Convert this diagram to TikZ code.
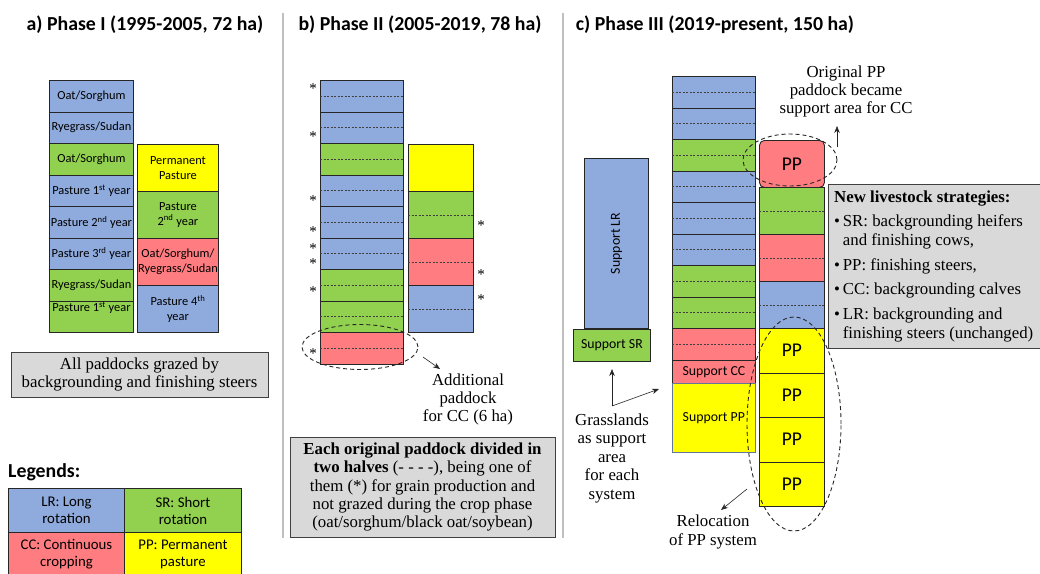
\documentclass[tikz,border=0pt]{standalone}
\usepackage{fontspec}
\setmainfont{Liberation Serif}
\newfontfamily\calfont{Carlito}
\usetikzlibrary{arrows.meta,shapes.geometric}
\definecolor{cblue}{HTML}{8FAADC}
\definecolor{cgreen}{HTML}{92D050}
\definecolor{cred}{HTML}{FF7C80}
\definecolor{cyel}{HTML}{FFFF00}
\definecolor{cgray}{HTML}{D9D9D9}
\definecolor{edgec}{HTML}{262626}
\definecolor{sepc}{HTML}{BFBFBF}
\newcommand\pc[8][]{\node[cellbox,fill=#7,minimum width=#5pt,minimum height=#6pt,#1] (#2) at (#3,#4) {#8};}
\newcommand\halfline[1]{\draw[halfst] (#1.west) -- (#1.east);}
\tikzset{
  cellbox/.style={draw=edgec, line width=0.9pt, anchor=north west, inner sep=0pt, align=center,
    font=\calfont\fontsize{12.4}{14.5}\selectfont},
  halfst/.style={draw=black!75, line width=0.45pt, dash pattern=on 2pt off 1.5pt},
  graybox/.style={draw=black!75, fill=cgray, line width=1pt, inner sep=0pt},
  serif/.style={font=\fontsize{16.8}{18}\selectfont, align=center, inner sep=0pt},
  ttl/.style={font=\calfont\bfseries\fontsize{19.8}{22}\selectfont, inner sep=0pt},
  ell/.style={ellipse, draw=black!85, line width=0.9pt, dash pattern=on 4pt off 3pt, inner sep=0pt},
  arr/.style={draw=black!85, line width=0.6pt, -{Stealth[length=7pt,width=5.5pt]}},
  star/.style={font=\fontsize{15}{15}\selectfont, inner sep=0pt},
  sepl/.style={draw=sepc, line width=2pt},
  legf/.style={font=\calfont\fontsize{14.8}{17}\selectfont},
  ppf/.style={font=\calfont\fontsize{19.5}{20}\selectfont},
  supf/.style={font=\calfont\fontsize{13.8}{15}\selectfont}
}
\begin{document}
\begin{tikzpicture}[x=1pt,y=-1pt]
\useasboundingbox (0,0) rectangle (1040,573);
\clip (0,0) rectangle (1040,573);
\fill[white] (0,0) rectangle (1040,573);

% separators
\coordinate (s1a) at (283,13); \coordinate (s1b) at (283,538);
\coordinate (s2a) at (563,13); \coordinate (s2b) at (563,538);
\draw[sepl] (s1a) -- (s1b);
\draw[sepl] (s2a) -- (s2b);

% titles
\node[ttl] (tA) at (145,25) {a) Phase I (1995-2005, 72 ha)};
\node[ttl] (tB) at (420,25) {b) Phase II (2005-2019, 78 ha)};
\node[ttl] (tC) at (715,25) {c) Phase III (2019-present, 150 ha)};

% ---------- Panel a ----------
\pc{aL1}{49}{80}{84}{31.5}{cblue}{Oat/Sorghum}
\pc{aL2}{49}{111.5}{84}{31.5}{cblue}{Ryegrass/Sudan}
\pc{aL3}{49}{143}{84}{31.5}{cgreen}{Oat/Sorghum}
\pc{aL4}{49}{174.5}{84}{31.5}{cblue}{Pasture 1\textsuperscript{st} year}
\pc{aL5}{49}{206}{84}{31.5}{cblue}{Pasture 2\textsuperscript{nd} year}
\pc{aL6}{49}{237.5}{84}{31.5}{cblue}{Pasture 3\textsuperscript{rd} year}
\pc{aL7}{49}{269}{84}{31.5}{cgreen}{Ryegrass/Sudan}
\pc{aL8}{49}{300.5}{84}{31.5}{cgreen}{Pasture 1\textsuperscript{st} year\\[5pt]}
\pc{aR1}{137}{144}{81}{47}{cyel}{Permanent\\Pasture}
\pc{aR2}{137}{191}{81}{47}{cgreen}{Pasture\\2\textsuperscript{nd} year}
\pc{aR3}{137}{238}{81}{47}{cred}{Oat/Sorghum/\\Ryegrass/Sudan}
\pc{aR4}{137}{285}{81}{47}{cblue}{Pasture 4\textsuperscript{th}\\year}
\node[graybox, serif, minimum width=257pt, minimum height=45pt, font=\fontsize{16.8}{17.5}\selectfont] (aBox) at (139.5,374.5)
  {All paddocks grazed by\\backgrounding and finishing steers};

% legend
\node[ttl, anchor=west] (leg) at (8,472) {Legends:};
\pc[legf]{lLR}{8}{488}{116}{44}{cblue}{LR: Long\\rotation}
\pc[legf]{lSR}{124}{488}{117}{44}{cgreen}{SR: Short\\rotation}
\pc[legf]{lCC}{8}{532}{116}{44}{cred}{CC: Continuous\\cropping}
\pc[legf]{lPP}{124}{532}{117}{44}{cyel}{PP: Permanent\\pasture}

% ---------- Panel b ----------
\pc{bL1}{320}{80}{83}{31.5}{cblue}{}
\pc{bL2}{320}{111.5}{83}{31.5}{cblue}{}
\pc{bL3}{320}{143}{83}{31.5}{cgreen}{}
\pc{bL4}{320}{174.5}{83}{31.5}{cblue}{}
\pc{bL5}{320}{206}{83}{31.5}{cblue}{}
\pc{bL6}{320}{237.5}{83}{31.5}{cblue}{}
\pc{bL7}{320}{269}{83}{31.5}{cgreen}{}
\pc{bL8}{320}{300.5}{83}{31.5}{cgreen}{}
\pc{bL9}{320}{332}{83}{31.5}{cred}{}
\foreach \n in {bL1,bL2,bL3,bL4,bL5,bL6,bL7,bL8,bL9} {\halfline{\n}}
\pc{bR1}{408}{144}{65}{47}{cyel}{}
\pc{bR2}{408}{191}{65}{47}{cgreen}{}
\pc{bR3}{408}{238}{65}{47}{cred}{}
\pc{bR4}{408}{285}{65}{47}{cblue}{}
\foreach \n in {bR2,bR3,bR4} {\halfline{\n}}
% asterisks
\node[star] (st1) at (313,89) {*};
\node[star] (st2) at (313,137) {*};
\node[star] (st3) at (313,201) {*};
\node[star] (st4) at (313,232) {*};
\node[star] (st5) at (313,249) {*};
\node[star] (st6) at (313,264) {*};
\node[star] (st7) at (313,292) {*};
\node[star] (st8) at (313,354) {*};
\node[star] (st9) at (481,226) {*};
\node[star] (st10) at (481,275) {*};
\node[star] (st11) at (481,300) {*};
\node[ell, minimum width=116pt, minimum height=45pt] (bE) at (360,347) {};
\coordinate (bA1) at (423,357); \coordinate (bA2) at (440,369);
\draw[arr] (bA1) -- (bA2);
\node[serif] (bT) at (468,399) {Additional\\paddock\\for CC (6 ha)};
\node[graybox, minimum width=265pt, minimum height=100pt] (bBox) at (422.5,487) {};
\node[serif, font=\fontsize{16.8}{18.3}\selectfont] (bBoxT) at (bBox.center)
  {\textbf{Each original paddock divided in}\\\textbf{two halves} (- - - -), being one of\\them (*) for grain production and\\not grazed during the crop phase\\(oat/sorghum/black oat/soybean)};

% ---------- Panel c ----------
\pc{cLR}{584}{158}{64}{170}{cblue}{}
\node[supf, rotate=90, inner sep=0pt] (cLRt) at (cLR.center) {Support LR};
\pc[supf]{cSR}{573}{329}{77}{32}{cgreen}{Support SR}

\pc{cM1}{672}{76}{83}{31.5}{cblue}{}
\pc{cM2}{672}{107.5}{83}{31.5}{cblue}{}
\pc{cM3}{672}{139}{83}{31.5}{cgreen}{}
\pc{cM4}{672}{170.5}{83}{31.5}{cblue}{}
\pc{cM5}{672}{202}{83}{31.5}{cblue}{}
\pc{cM6}{672}{233.5}{83}{31.5}{cblue}{}
\pc{cM7}{672}{265}{83}{31.5}{cgreen}{}
\pc{cM8}{672}{296.5}{83}{31.5}{cgreen}{}
\pc{cM9}{672}{328}{83}{31.5}{cred}{}
\foreach \n in {cM1,cM2,cM3,cM4,cM5,cM6,cM7,cM8,cM9} {\halfline{\n}}
\pc[supf]{cCC}{672}{359.5}{83}{23.5}{cred}{Support CC}
\pc[supf, draw=cblue!70!black, line width=0.6pt]{cPP}{672}{383}{83}{69}{cyel}{Support PP}

\pc[ppf, rounded corners=5pt]{cR1}{759}{140}{65}{47}{cred}{PP}
\pc{cR2}{759}{187}{65}{47}{cgreen}{}
\pc{cR3}{759}{234}{65}{47}{cred}{}
\pc{cR4}{759}{281}{65}{47}{cblue}{}
\foreach \n in {cR2,cR3,cR4} {\halfline{\n}}
\pc[ppf]{cP1}{759}{328}{65}{44.5}{cyel}{PP}
\pc[ppf]{cP2}{759}{372.5}{65}{44.5}{cyel}{PP}
\pc[ppf]{cP3}{759}{417}{65}{44.5}{cyel}{PP}
\pc[ppf]{cP4}{759}{461.5}{65}{44.5}{cyel}{PP}

\node[ell, minimum width=94pt, minimum height=52pt] (cE1) at (790,160) {};
\node[ell, minimum width=94pt, minimum height=214pt] (cE2) at (794,424) {};

\node[serif] (cOT) at (846,91) {Original PP\\paddock became\\support area for CC};
\coordinate (cA1) at (837,147); \coordinate (cA2) at (837,126);
\draw[arr] (cA1) -- (cA2);

\node[graybox, anchor=north west, minimum width=214pt, minimum height=164pt] (cBox) at (828,184) {};
\node[anchor=north west, inner sep=0pt, font=\fontsize{16.8}{19}\selectfont] (cBoxT) at (834,189)
  {\begin{tabular}{@{}l@{\,}l@{}}
   \multicolumn{2}{@{}l}{\textbf{New livestock strategies:}}\\[5pt]
   \textbullet & SR: backgrounding heifers\\
   & and finishing cows,\\[5.5pt]
   \textbullet & PP: finishing steers,\\[5.5pt]
   \textbullet & CC: backgrounding calves\\[5.5pt]
   \textbullet & LR: backgrounding and\\
   & finishing steers (unchanged)
   \end{tabular}};

\node[serif, font=\fontsize{16.8}{18.5}\selectfont] (cGT) at (612,458) {Grasslands\\as support\\area\\for each\\system};
\coordinate (gS) at (612,406);
\coordinate (gT1) at (612,369);
\coordinate (gT2) at (659,389);
\draw[arr] (gS) -- (gT1);
\draw[arr] (gS) -- (gT2);

\coordinate (rA1) at (747,489); \coordinate (rA2) at (721,510);
\draw[arr] (rA1) -- (rA2);
\node[serif, font=\fontsize{16.8}{19}\selectfont] (cRT) at (713,532) {Relocation\\of PP system};
\end{tikzpicture}
\end{document}
